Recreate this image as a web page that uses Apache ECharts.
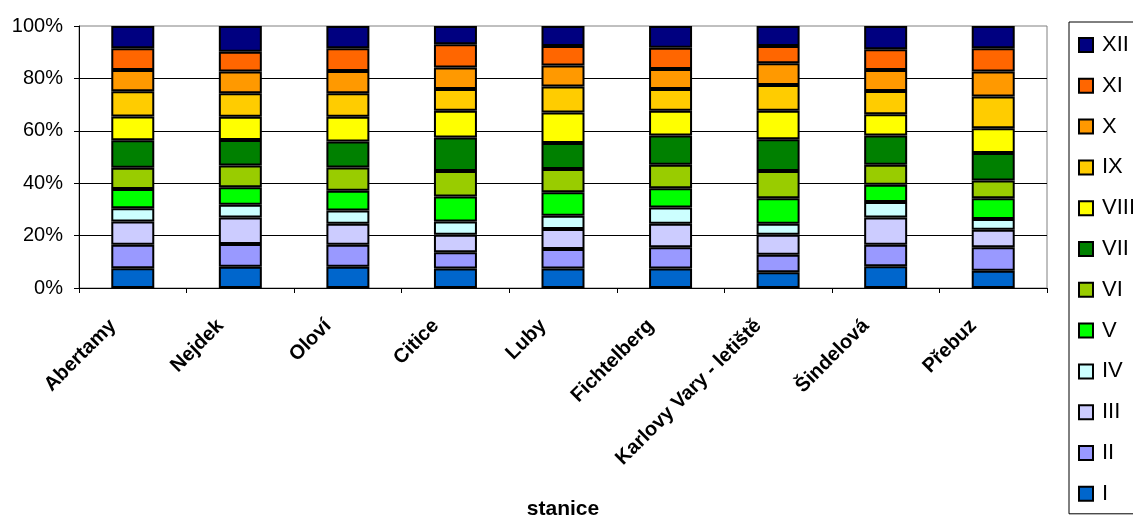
<!DOCTYPE html>
<html>
<head>
<meta charset="utf-8">
<script src="https://cdn.jsdelivr.net/npm/echarts@6/dist/echarts.min.js"></script>
<style>
html,body{margin:0;padding:0;background:#fff;}
#chart{width:1133px;height:519px;}
</style>
</head>
<body>
<div id="chart"></div>
<script>
// Categories (stations)
const stations = ['Abertamy', 'Nejdek', 'Oloví', 'Citice', 'Luby', 'Fichtelberg', 'Karlovy Vary - letiště', 'Šindelová', 'Přebuz'];
// Month names (series)
const months = ['I', 'II', 'III', 'IV', 'V', 'VI', 'VII', 'VIII', 'IX', 'X', 'XI', 'XII'];
// Share of each month per station (%)
const m01 = [7.6, 8.1, 8.1, 7.4, 7.4, 7.4, 6.0, 8.3, 6.6];
const m02 = [8.9, 8.7, 8.4, 6.2, 7.5, 8.2, 6.7, 8.2, 9.0];
const m03 = [8.9, 10.1, 8.0, 6.7, 7.6, 8.9, 7.6, 10.4, 6.6];
const m04 = [5.1, 4.9, 5.1, 5.1, 5.1, 6.2, 4.2, 5.9, 4.1];
const m05 = [7.4, 6.7, 7.5, 9.5, 8.9, 7.4, 9.8, 6.6, 8.0];
const m06 = [8.1, 8.3, 8.9, 9.8, 8.9, 8.9, 10.4, 7.6, 6.7];
const m07 = [10.5, 9.7, 9.9, 12.7, 9.9, 11.2, 12.1, 11.2, 10.5];
const m08 = [9.1, 8.9, 9.5, 10.3, 11.7, 9.5, 10.9, 8.1, 9.5];
const m09 = [9.6, 8.9, 8.9, 8.3, 9.9, 8.3, 9.8, 8.9, 12.1];
const m10 = [8.2, 8.3, 8.5, 8.2, 8.0, 7.6, 8.3, 8.0, 9.5];
const m11 = [8.3, 7.6, 8.7, 8.8, 7.5, 8.1, 6.6, 7.9, 8.9];
const m12 = [8.5, 9.8, 8.5, 7.0, 7.6, 8.3, 7.6, 8.9, 8.5];
// Y axis tick labels
const yTicks = [0, 20, 40, 60, 80, 100];
const xAxisTitle = 'stanice';

const monthValues = [m01, m02, m03, m04, m05, m06, m07, m08, m09, m10, m11, m12];
const colors = ['#0066CC', '#9999FF', '#CCCCFF', '#CCFFFF', '#00FF00', '#99CC00', '#008000', '#FFFF00', '#FFCC00', '#FF9900', '#FF6600', '#000080'];

// 100% stacked: normalize each station to its total
const totals = stations.map((s, i) => monthValues.reduce((a, arr) => a + arr[i], 0));

const FONT = 'Arial, "Liberation Sans", sans-serif';

const series = months.map((m, k) => ({
  name: m,
  type: 'bar',
  stack: 'all',
  barWidth: 43,
  data: monthValues[k].map((v, i) => v / totals[i] * 100),
  itemStyle: { color: colors[k], borderColor: '#000', borderWidth: 2 }
}));

const chart = echarts.init(document.getElementById('chart'), null, { renderer: 'canvas' });
chart.setOption({
  animation: false,
  backgroundColor: '#fff',
  grid: {
    left: 79, right: 86, top: 26, bottom: 231,
    containLabel: false, outerBoundsMode: 'none',
    show: true, borderColor: '#808080', borderWidth: 1, backgroundColor: 'transparent'
  },
  xAxis: {
    type: 'category',
    data: stations,
    name: xAxisTitle,
    nameLocation: 'middle',
    nameGap: 211,
    nameTextStyle: { fontFamily: FONT, fontSize: 21, fontWeight: 'bold', color: '#000' },
    axisLine: { show: true, lineStyle: { color: '#000', width: 1 } },
    axisTick: { show: true, length: 5, lineStyle: { color: '#000' } },
    axisLabel: {
      interval: 0, rotate: 45, margin: 15,
      fontFamily: FONT, fontSize: 20, fontWeight: 'bold', color: '#000',
      padding: [0, 28, 0, 0]
    },
    splitLine: { show: false }
  },
  yAxis: {
    type: 'value',
    min: yTicks[0], max: yTicks[yTicks.length - 1], interval: yTicks[1] - yTicks[0],
    axisLine: { show: true, lineStyle: { color: '#000', width: 1 } },
    axisTick: { show: true, length: 5, lineStyle: { color: '#000' } },
    axisLabel: { margin: 16, fontFamily: FONT, fontSize: 20, color: '#000', formatter: '{value}%' },
    splitLine: { show: true, showMinLine: false, showMaxLine: false, lineStyle: { color: '#000', width: 1 } }
  },
  legend: {
    orient: 'vertical',
    left: 1069, top: 22,
    padding: [12, 10, 9, 9],
    itemGap: 18.8,
    itemWidth: 14, itemHeight: 14,
    icon: 'rect',
    selectedMode: false,
    borderColor: '#000', borderWidth: 1,
    itemStyle: { borderColor: '#000', borderWidth: 2 },
    textStyle: { fontFamily: FONT, fontSize: 22, lineHeight: 22, color: '#000', padding: [0, 0, 0, 4] },
    data: months.slice().reverse()
  },
  series: series
});
</script>
</body>
</html>
